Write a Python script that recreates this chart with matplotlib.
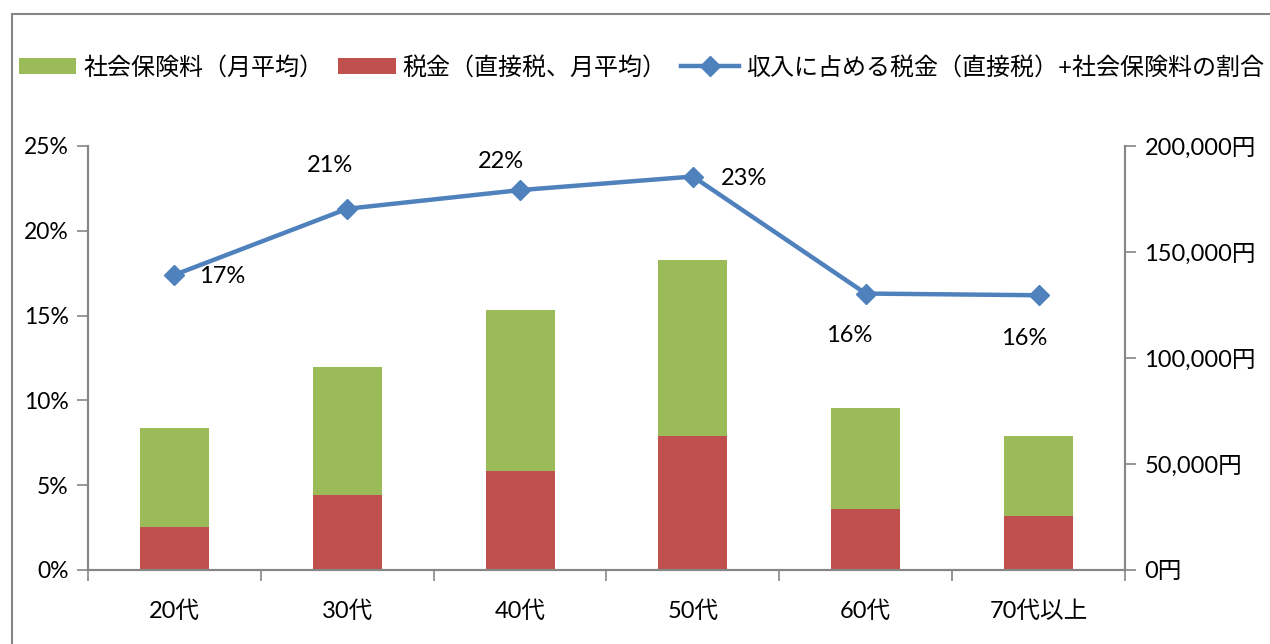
import matplotlib.pyplot as plt
from matplotlib.patches import Rectangle
import numpy as np

plt.rcParams['font.family'] = ['Lato', 'Noto Sans CJK JP', 'DejaVu Sans']

ages = ['20代', '30代', '40代', '50代', '60代', '70代以上']
tax = [20300, 35400, 46700, 63200, 28800, 25500]
social = [46700, 60400, 75900, 83000, 47600, 37700]
ratio = [17.4, 21.3, 22.4, 23.2, 16.3, 16.2]
ratio_labels = ['17%', '21%', '22%', '23%', '16%', '16%']

green = '#9BBB59'
red = '#C0504D'
blue = '#4F81BD'
grey = '#868686'

fig = plt.figure(figsize=(12.7, 6.44), dpi=100)
ax = fig.add_axes([88 / 1270, 1 - 570 / 644, (1125 - 88) / 1270, (570 - 146) / 644])
ax2 = ax.twinx()

x = np.arange(len(ages))
b1 = ax2.bar(x, tax, width=0.4, color=red, label='税金（直接税、月平均）', zorder=2)
b2 = ax2.bar(x, social, width=0.4, bottom=tax, color=green, label='社会保険料（月平均）', zorder=2)
ln, = ax.plot(x, ratio, color=blue, lw=3.2, marker='D', ms=10, zorder=5,
              label='収入に占める税金（直接税）+社会保険料の割合')

# bars on the twin axis, line drawn above
ax.set_zorder(ax2.get_zorder() + 1)
ax.patch.set_visible(False)

offsets = [(48, -2), (-17, 43), (-19, 29), (51, -2), (-17, -42), (-14, -43)]
for xi, r, lab, off in zip(x, ratio, ratio_labels, offsets):
    ax.annotate(lab, (xi, r), xytext=off, textcoords='offset pixels',
                ha='center', va='center', fontsize=17, color='black')

ax.set_xlim(-0.5, len(ages) - 0.5)
ax.set_ylim(0, 25)
ax.set_yticks([0, 5, 10, 15, 20, 25])
ax.set_yticklabels([f'{v}%' for v in [0, 5, 10, 15, 20, 25]])
ax2.set_ylim(0, 200000)
ax2.set_yticks([0, 50000, 100000, 150000, 200000])
ax2.set_yticklabels([f'{v:,}円' for v in [0, 50000, 100000, 150000, 200000]])

ax.set_xticks(x)
ax.set_xticklabels(ages)
ax.set_xticks(np.arange(-0.5, len(ages)), minor=True)
ax.tick_params(axis='x', which='major', length=0, pad=22, labelsize=17)
ax.tick_params(axis='x', which='minor', length=8, color=grey, width=1.2)
ax.tick_params(axis='y', length=8, color=grey, width=1.2, labelsize=16.5, pad=6)
ax2.tick_params(axis='y', length=8, color=grey, width=1.2, labelsize=17, pad=6)

for a in (ax, ax2):
    a.spines['top'].set_visible(False)
    for s in ('left', 'right', 'bottom'):
        a.spines[s].set_color(grey)
        a.spines[s].set_linewidth(1.5)

fig.legend(handles=[b2, b1, ln], loc='center', bbox_to_anchor=(0.505, 1 - 67 / 644),
           ncol=3, frameon=False, fontsize=17.3, handlelength=2.4, handleheight=0.6,
           columnspacing=0.6, handletextpad=0.3)

fig.patches.append(Rectangle((12 / 1270, -0.1), 1.2, 1 - 14 / 644 + 0.1,
                             transform=fig.transFigure, fill=False,
                             edgecolor=grey, lw=1.5))

fig.savefig('out.png', dpi=100)
